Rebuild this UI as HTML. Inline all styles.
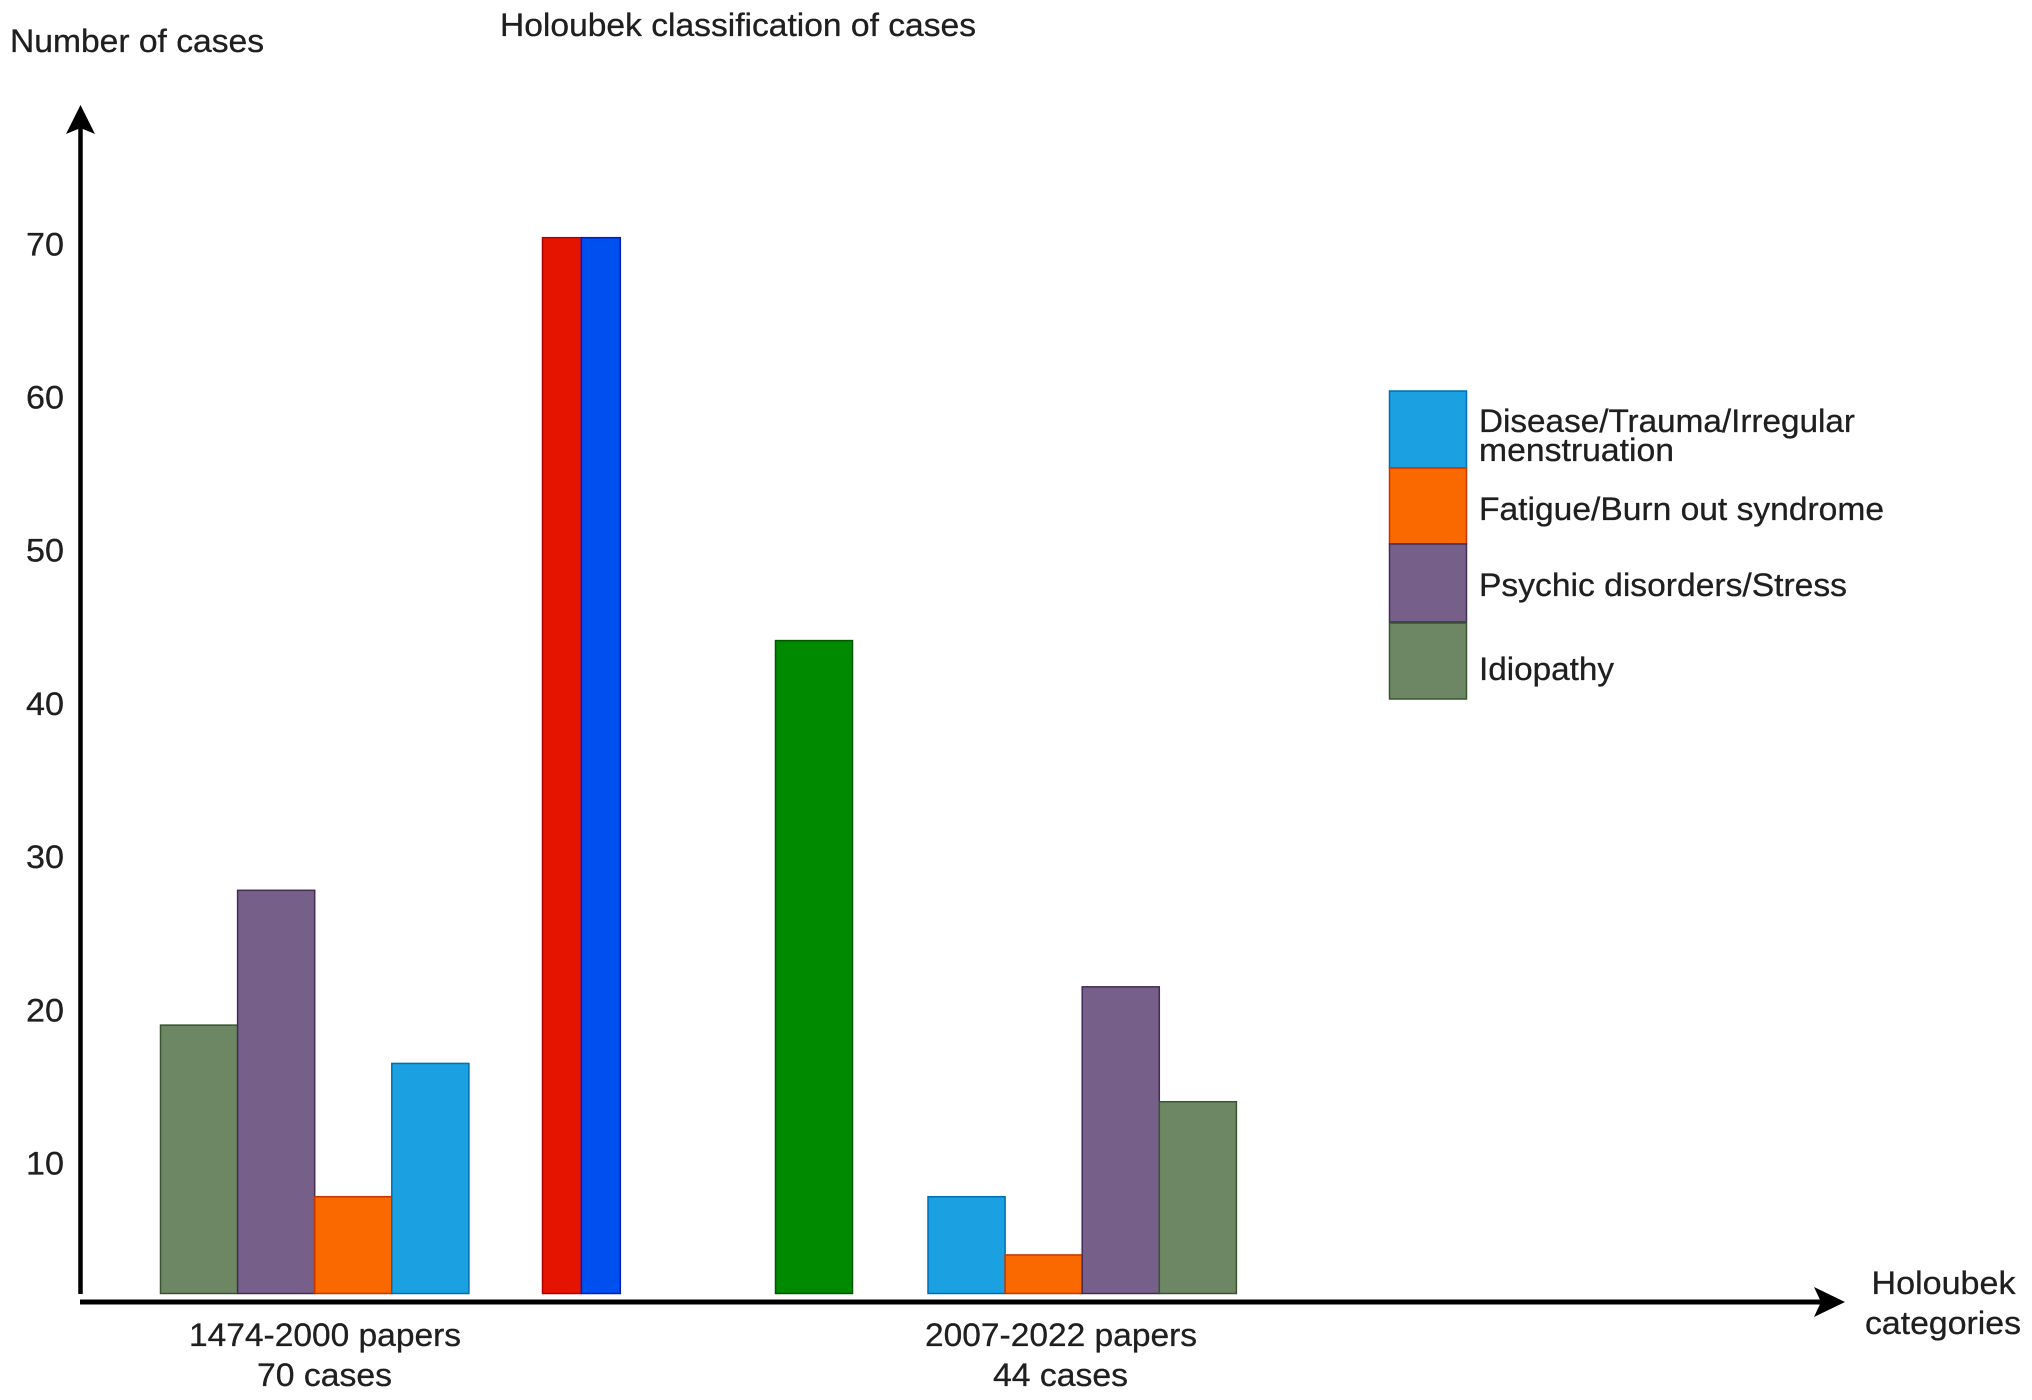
<!DOCTYPE html>
<html lang="en">
<head>
<meta charset="utf-8">
<title>Holoubek classification of cases</title>
<style>
  html, body { margin: 0; padding: 0; background: #ffffff; }
  #chart { display: block; width: 2032px; height: 1400px; background: #ffffff; }
  text { font-family: "Liberation Sans", Arial, sans-serif; font-size: 32.5px; fill: #1f1f1f; stroke: #1f1f1f; stroke-width: 0.3px; }
</style>
</head>
<body>
<svg id="chart" xmlns="http://www.w3.org/2000/svg" width="2032" height="1400" viewBox="0 0 2032 1400">
  <g id="bars"></g>
  <g>
    <line x1="80.5" y1="125" x2="80.5" y2="1294" stroke="#000" stroke-width="4.5"/>
    <polygon points="80.5,105 95,134 80.5,128 66,134" fill="#000"/>
  </g>
  <g>
    <line x1="80" y1="1302" x2="1825" y2="1302" stroke="#000" stroke-width="5"/>
    <polygon points="1845,1302 1814,1287 1821,1302 1814,1317" fill="#000"/>
  </g>
  <g id="ticks"></g>
  <text x="10" y="52" textLength="254" lengthAdjust="spacingAndGlyphs">Number of cases</text>
  <text x="500" y="36" textLength="476" lengthAdjust="spacingAndGlyphs">Holoubek classification of cases</text>
  <text x="189" y="1346" textLength="272" lengthAdjust="spacingAndGlyphs">1474-2000 papers</text>
  <text x="257" y="1386" textLength="135" lengthAdjust="spacingAndGlyphs">70 cases</text>
  <text x="925" y="1346" textLength="272" lengthAdjust="spacingAndGlyphs">2007-2022 papers</text>
  <text x="993" y="1386" textLength="135" lengthAdjust="spacingAndGlyphs">44 cases</text>
  <text x="1871.5" y="1294" textLength="144" lengthAdjust="spacingAndGlyphs">Holoubek</text>
  <text x="1865" y="1334" textLength="156" lengthAdjust="spacingAndGlyphs">categories</text>
  <g>
    <rect x="1389.5" y="391" width="77" height="77" fill="#1ba1e2" stroke="#006eaf" stroke-width="1.5"/>
    <rect x="1389.5" y="468" width="77" height="76" fill="#fa6800" stroke="#c73500" stroke-width="1.5"/>
    <rect x="1389.5" y="544" width="77" height="78" fill="#76608a" stroke="#432d57" stroke-width="1.5"/>
    <rect x="1389.5" y="623" width="77" height="76" fill="#6d8764" stroke="#3a5431" stroke-width="1.5"/>
    <text x="1479" y="432" textLength="376" lengthAdjust="spacingAndGlyphs">Disease/Trauma/Irregular</text>
    <text x="1479" y="461" textLength="195" lengthAdjust="spacingAndGlyphs">menstruation</text>
    <text x="1479" y="520" textLength="405" lengthAdjust="spacingAndGlyphs">Fatigue/Burn out syndrome</text>
    <text x="1479" y="596" textLength="368" lengthAdjust="spacingAndGlyphs">Psychic disorders/Stress</text>
    <text x="1479" y="680" textLength="135" lengthAdjust="spacingAndGlyphs">Idiopathy</text>
  </g>
</svg>
<script>
// ----- chart data -----
const tickValues = [10, 20, 30, 40, 50, 60, 70];
const tickLabels = ["10", "20", "30", "40", "50", "60", "70"];

const earlySeries = ["idiopathy", "psychic", "fatigue", "disease"];
const earlyValues = [19.0, 27.8, 7.8, 16.5];

const totalSeries = ["early-total-red", "early-total-blue", "late-total-green"];
const totalValues = [70.4, 70.4, 44.1];

const lateSeries = ["disease", "fatigue", "psychic", "idiopathy"];
const lateValues = [7.8, 4.0, 21.5, 14.0];

// ----- styling and layout -----
const fills = { disease: "#1ba1e2", fatigue: "#fa6800", psychic: "#76608a", idiopathy: "#6d8764",
  "early-total-red": "#e51400", "early-total-blue": "#0050ef", "late-total-green": "#008a00" };
const strokes = { disease: "#006eaf", fatigue: "#c73500", psychic: "#432d57", idiopathy: "#3a5431",
  "early-total-red": "#b20000", "early-total-blue": "#001dbc", "late-total-green": "#005700" };

const SVG_NS = "http://www.w3.org/2000/svg";
const BAR_BASE = 1293.5;

// Value axis: tick 10 sits at y=1163, each unit spans 15.32px.
function yScale(v) {
  return 1163 - (v - 10) * 15.32;
}

function drawBar(name, value, left, width) {
  const bar = document.createElementNS(SVG_NS, "rect");
  const top = yScale(value);
  bar.setAttribute("x", left);
  bar.setAttribute("y", top);
  bar.setAttribute("width", width);
  bar.setAttribute("height", BAR_BASE - top);
  bar.setAttribute("fill", fills[name]);
  bar.setAttribute("stroke", strokes[name]);
  bar.setAttribute("stroke-width", "1.5");
  
  
  document.getElementById("bars").appendChild(bar);
}

// Category axis bands
function earlyX(i) { return 160.5 + i * 77.1; }
function lateX(i) { return 928 + i * 77.1; }
function totalX(i) { return i < 2 ? 542.5 + i * 38.9 : 775.5; }
function totalW(i) { return i < 2 ? 38.9 : 77; }

earlySeries.forEach(function (s, i) { drawBar(s, earlyValues[i], earlyX(i), 77.1); });
totalSeries.forEach(function (s, i) { drawBar(s, totalValues[i], totalX(i), totalW(i)); });
lateSeries.forEach(function (s, i) { drawBar(s, lateValues[i], lateX(i), 77.1); });

tickValues.forEach(function (v, i) {
  const label = document.createElementNS(SVG_NS, "text");
  label.setAttribute("x", 64);
  label.setAttribute("y", yScale(v) + 11.5);
  label.setAttribute("text-anchor", "end");
  label.setAttribute("textLength", "38");
  label.setAttribute("lengthAdjust", "spacingAndGlyphs");
  
  
  label.textContent = tickLabels[i];
  document.getElementById("ticks").appendChild(label);
});
</script>
</body>
</html>
